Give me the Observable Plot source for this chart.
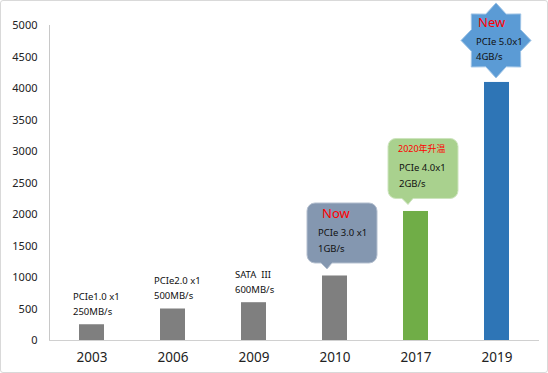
<!DOCTYPE html>
<html>
<head>
<meta charset="utf-8">
<script src="https://cdn.jsdelivr.net/npm/d3@7"></script>
<script src="https://cdn.jsdelivr.net/npm/@observablehq/plot@0.6"></script>
<style>
  html, body { margin: 0; padding: 0; background: #fff; }
  #chart { width: 548px; height: 373px; position: relative; }
  #chart svg { display: block; }
  #border { position: absolute; left: 0; top: 0; width: 546px; height: 371px; border: 1px solid #d9d9d9; border-radius: 3px; pointer-events: none; }
</style>
</head>
<body>
<div id="chart"><div id="border"></div></div>
<script>
// ---- data ----
const years = ["2003", "2006", "2009", "2010", "2017", "2019"];
const speeds = [250, 500, 600, 1024, 2048, 4096];
const specLines = ["PCIe1.0 x1", "PCIe2.0 x1", "SATA\u00a0\u00a0III", "PCIe 3.0 x1", "PCIe 4.0x1", "PCIe 5.0x1"];
const rateLines = ["250MB/s", "500MB/s", "600MB/s", "1GB/s", "2GB/s", "4GB/s"];
const tagLines = ["", "", "", "Now", "2020年升温", "New"];
const yTicks = [0, 500, 1000, 1500, 2000, 2500, 3000, 3500, 4000, 4500, 5000];

const rows = years.map((year, i) => ({
  year, speed: speeds[i], spec: specLines[i], rate: rateLines[i], tag: tagLines[i]
}));
const plain = rows.filter(d => d.tag === "");
const bubbles = rows.filter(d => d.year === "2010" || d.year === "2017");
const starred = rows.filter(d => d.year === "2019");

// ---- custom shapes (drawn relative to the bar top centre) ----
function calloutSymbol(x0, x1, y0, y1, b0, b1, tx, ty, r) {
  return {
    draw(ctx) {
      ctx.moveTo(x0 + r, y0);
      ctx.lineTo(x1 - r, y0);
      ctx.arcTo(x1, y0, x1, y0 + r, r);
      ctx.lineTo(x1, y1 - r);
      ctx.arcTo(x1, y1, x1 - r, y1, r);
      ctx.lineTo(b1, y1);
      ctx.lineTo(tx, ty);
      ctx.lineTo(b0, y1);
      ctx.lineTo(x0 + r, y1);
      ctx.arcTo(x0, y1, x0, y1 - r, r);
      ctx.lineTo(x0, y0 + r);
      ctx.arcTo(x0, y0, x0 + r, y0, r);
      ctx.closePath();
    }
  };
}
function starSymbol(cx, cy, rx, ry, inner) {
  return {
    draw(ctx) {
      for (let k = 0; k < 16; k++) {
        const a = -Math.PI / 2 + k * Math.PI / 8;
        const f = k % 2 === 0 ? 1 : inner;
        const x = cx + rx * f * Math.cos(a), y = cy + ry * f * Math.sin(a);
        if (k === 0) ctx.moveTo(x, y); else ctx.lineTo(x, y);
      }
      ctx.closePath();
    }
  };
}
const callout = calloutSymbol(-28, 42, -73, -13, -14, -3, -8, -7, 8);
const star = starSymbol(-1, -42, 35, 37.5, 0.76);

const plot = Plot.plot({
  width: 548,
  height: 373,
  marginLeft: 49,
  marginRight: 9,
  marginTop: 25,
  marginBottom: 33,
  style: { fontFamily: "'Noto Sans', 'Noto Sans CJK SC', sans-serif", background: "transparent" },
  x: { domain: years, paddingInner: 0.69, paddingOuter: 0.345 },
  y: { domain: [0, 5000] },
  color: { domain: years, range: ["#7f7f7f", "#7f7f7f", "#7f7f7f", "#7f7f7f", "#70ad47", "#2e75b6"] },
  marks: [
    Plot.frame({ anchor: "left", stroke: "#c8c8c8" }),
    Plot.axisY(yTicks, { tickSize: 0, tickPadding: 12, fontSize: 11, fill: "#222", label: null, tickFormat: d => String(d) }),
    Plot.axisX({ tickSize: 0, tickPadding: 12, fontSize: 13.5, fill: "#222", label: null }),
    Plot.barY(rows, { x: "year", y: "speed", fill: "year" }),
    Plot.ruleY([0], { stroke: "#d0d0d0" }),
    // plain labels above the first three bars
    Plot.text(plain, { x: "year", y: "speed", text: "spec", dx: -19, dy: -28, textAnchor: "start", fontSize: 9.5, fill: "#111" }),
    Plot.text(plain, { x: "year", y: "speed", text: "rate", dx: -19, dy: -13, textAnchor: "start", fontSize: 9.5, fill: "#111" }),
    // callout bubbles
    Plot.dot(bubbles.filter(d => d.year === "2010"), { x: "year", y: "speed", r: 1, symbol: callout, fill: "#8497b0", stroke: "#b4bfcf", strokeWidth: 1 }),
    Plot.dot(bubbles.filter(d => d.year === "2017"), { x: "year", y: "speed", r: 1, symbol: callout, fill: "#a9d18e", stroke: "#cde4be", strokeWidth: 1 }),
    Plot.text(bubbles.filter(d => d.year === "2010"), { x: "year", y: "speed", text: "tag", dx: -13, dy: -62, textAnchor: "start", fontSize: 13, fill: "#ff0000" }),
    Plot.text(bubbles.filter(d => d.year === "2017"), { x: "year", y: "speed", text: "tag", dx: -18, dy: -62, textAnchor: "start", fontSize: 9, fill: "#ff0000" }),
    Plot.text(bubbles, { x: "year", y: "speed", text: "spec", dx: -17, dy: -43.5, textAnchor: "start", fontSize: 9.5, fill: "#111" }),
    Plot.text(bubbles, { x: "year", y: "speed", text: "rate", dx: -17, dy: -27.5, textAnchor: "start", fontSize: 9.5, fill: "#111" }),
    // star
    Plot.dot(starred, { x: "year", y: "speed", r: 1, symbol: star, fill: "#5b9bd5", stroke: "#9dc3e6", strokeWidth: 1 }),
    Plot.text(starred, { x: "year", y: "speed", text: "tag", dx: -19, dy: -60, textAnchor: "start", fontSize: 13, fill: "#ff0000" }),
    Plot.text(starred, { x: "year", y: "speed", text: "spec", dx: -21, dy: -40, textAnchor: "start", fontSize: 9.5, fill: "#111" }),
    Plot.text(starred, { x: "year", y: "speed", text: "rate", dx: -21, dy: -25, textAnchor: "start", fontSize: 9.5, fill: "#111" })
  ]
});
document.getElementById("chart").prepend(plot);
</script>
</body>
</html>
